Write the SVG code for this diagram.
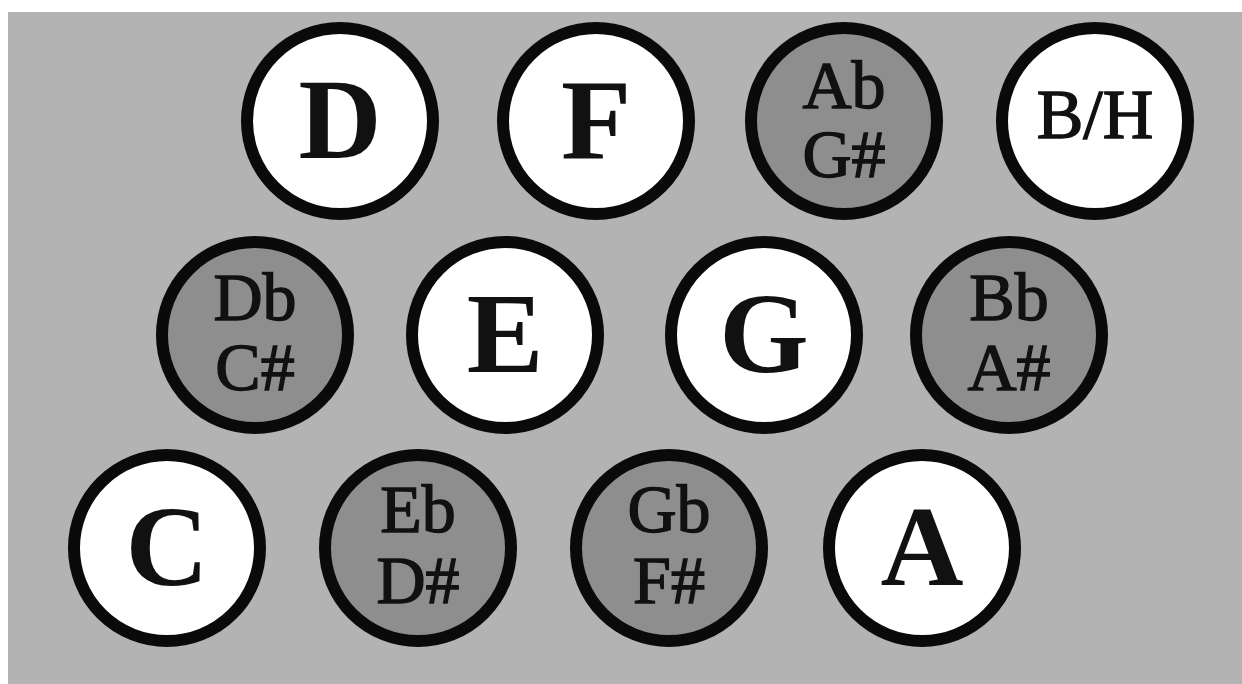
<svg xmlns="http://www.w3.org/2000/svg" width="1242" height="684" viewBox="0 0 1242 684">
<style>
.key{stroke:#0a0a0a;stroke-width:12}
.nat{fill:#ffffff}
.acc{fill:#8e8e8e}
.big{font-family:"Liberation Serif",serif;font-weight:bold;font-size:115px;fill:#111;text-anchor:middle}
.two{font-family:"Liberation Serif",serif;font-size:68px;fill:#111;stroke:#111;stroke-width:1.4;text-anchor:middle}
.bh{font-family:"Liberation Serif",serif;font-size:70px;fill:#111;stroke:#111;stroke-width:1.4;text-anchor:middle}
</style>
<rect x="0" y="0" width="1242" height="684" fill="#ffffff"/>
<rect x="8" y="12" width="1234" height="672" fill="#b3b3b3"/>
<g id="connectors"></g>
<g id="key-D"><circle class="key nat" cx="340" cy="121" r="93"/><text class="big" x="340" y="158">D</text></g>
<g id="key-F"><circle class="key nat" cx="596" cy="121" r="93"/><text class="big" x="596" y="158">F</text></g>
<g id="key-Ab"><circle class="key acc" cx="844" cy="121" r="93"/><text class="two" x="844" y="108">Ab</text><text class="two" x="844" y="177">G#</text></g>
<g id="key-BH"><circle class="key nat" cx="1095" cy="121" r="93"/><text class="bh" x="1095" y="138">B/H</text></g>
<g id="key-Db"><circle class="key acc" cx="255" cy="335" r="93"/><text class="two" x="255" y="320">Db</text><text class="two" x="255" y="390">C#</text></g>
<g id="key-E"><circle class="key nat" cx="505" cy="335" r="93"/><text class="big" x="505" y="372">E</text></g>
<g id="key-G"><circle class="key nat" cx="764" cy="335" r="93"/><text class="big" x="764" y="372">G</text></g>
<g id="key-Bb"><circle class="key acc" cx="1009" cy="335" r="93"/><text class="two" x="1009" y="320">Bb</text><text class="two" x="1009" y="390">A#</text></g>
<g id="key-C"><circle class="key nat" cx="167" cy="548" r="93"/><text class="big" x="167" y="585">C</text></g>
<g id="key-Eb"><circle class="key acc" cx="418" cy="548" r="93"/><text class="two" x="418" y="532">Eb</text><text class="two" x="418" y="603">D#</text></g>
<g id="key-Gb"><circle class="key acc" cx="669" cy="548" r="93"/><text class="two" x="669" y="532">Gb</text><text class="two" x="669" y="603">F#</text></g>
<g id="key-A"><circle class="key nat" cx="922" cy="548" r="93"/><text class="big" x="922" y="585">A</text></g>
</svg>
